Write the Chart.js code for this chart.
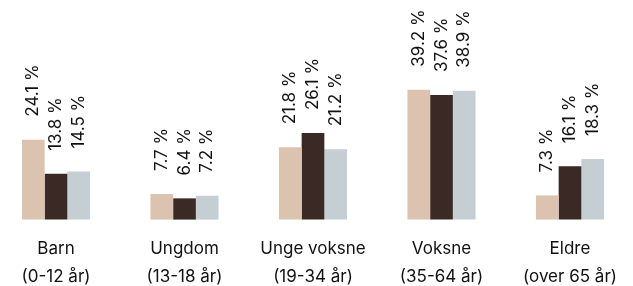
<!DOCTYPE html>
<html>
<head>
<meta charset="utf-8">
<script src="https://cdn.jsdelivr.net/npm/chart.js@4/dist/chart.umd.min.js"></script>
<style>
html,body{margin:0;padding:0;background:#fff;}
#c{display:block;}
</style>
</head>
<body>
<canvas id="c" width="633" height="286"></canvas>
<script>
const categories = [
  ["Barn", "(0-12 år)"],
  ["Ungdom", "(13-18 år)"],
  ["Unge voksne", "(19-34 år)"],
  ["Voksne", "(35-64 år)"],
  ["Eldre", "(over 65 år)"]
];
const series1 = [24.1, 7.7, 21.8, 39.2, 7.3];
const series2 = [13.8, 6.4, 26.1, 37.6, 16.1];
const series3 = [14.5, 7.2, 21.2, 38.9, 18.3];
const colors = ["#dcc3b0", "#3a2925", "#c5ced3"];
const FONT = "Inter";

const labelPlugin = {
  id: 'vlabels',
  afterDatasetsDraw(chart) {
    const ctx = chart.ctx;
    ctx.save();
    ctx.fillStyle = '#111';
    ctx.font = '17px ' + FONT;
    ctx.textAlign = 'left';
    ctx.textBaseline = 'middle';
    chart.data.datasets.forEach((ds, di) => {
      const meta = chart.getDatasetMeta(di);
      meta.data.forEach((el, i) => {
        const v = ds.data[i];
        ctx.save();
        ctx.translate(el.x, el.y - 23);
        ctx.rotate(-Math.PI / 2);
        ctx.fillText(v.toFixed(1) + ' %', 0, 0);
        ctx.restore();
      });
    });
    ctx.restore();
  }
};

new Chart(document.getElementById('c'), {
  type: 'bar',
  data: {
    labels: categories,
    datasets: [
      { data: series1, backgroundColor: colors[0], clip: false },
      { data: series2, backgroundColor: colors[1], clip: false },
      { data: series3, backgroundColor: colors[2], clip: false }
    ]
  },
  options: {
    responsive: false,
    animation: false,
    devicePixelRatio: 1,
    categoryPercentage: 0.53,
    barPercentage: 1,
    layout: { padding: { left: 56, right: 63, top: 87, bottom: -20 } },
    plugins: { legend: { display: false }, tooltip: { enabled: false } },
    scales: {
      x: {
        offset: false,
        grid: { display: false, drawTicks: false },
        border: { display: false },
        ticks: {
          color: '#111',
          font: { family: FONT, size: 17, lineHeight: 1.6 },
          padding: 16,
          maxRotation: 0,
          autoSkip: false
        }
      },
      y: {
        display: false,
        min: 0,
        max: 40
      }
    }
  },
  plugins: [labelPlugin]
});
</script>
</body>
</html>
